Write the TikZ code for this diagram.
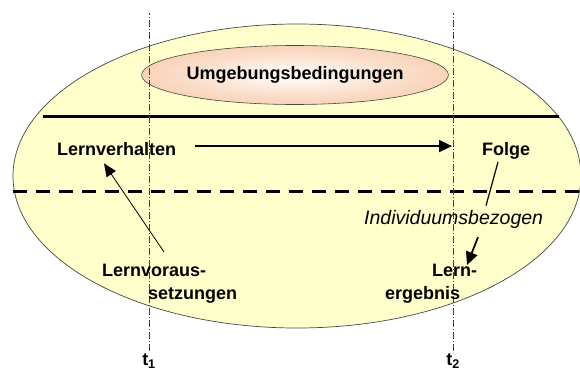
\documentclass[tikz,border=0pt]{standalone}
\usepackage{fontspec}
\setmainfont{Liberation Sans}
\usetikzlibrary{shapes.geometric, arrows.meta, positioning, calc}

\definecolor{paleyellow}{RGB}{255,255,204}
\definecolor{peach}{RGB}{244,180,134}
\definecolor{rimgray}{RGB}{70,70,70}
\pgfdeclareradialshading{peachglow}{\pgfpoint{0bp}{0bp}}{%
  color(0bp)=(white); color(18bp)=(peach!45); color(46bp)=(peach); color(50bp)=(peach)}

\begin{document}
\begin{tikzpicture}[
      x=1pt, y=-1pt,
      every node/.style={inner sep=0pt, font=\bfseries\fontsize{18}{23}\selectfont},
      arrow/.style={-{Triangle[length=13pt, width=12pt]}, line width=1.4pt},
      timeline/.style={draw=black!75, line width=0.7pt, dash pattern=on 7pt off 2pt on 1pt off 2pt}
    ]
      \useasboundingbox (0,0) rectangle (580,372);

      % Outer region
      \draw[rimgray, line width=0.7pt, fill=paleyellow] (297,176) ellipse [x radius=284pt, y radius=152pt];

      % Node 1: Umgebung
      \node (umgebung) [ellipse, draw=rimgray, line width=0.6pt, shading=peachglow,
        minimum width=259pt, minimum height=59pt]
        at (295,75) {Umgebungsbedingungen};

      % Boundary lines
      \draw[line width=3pt] (43,116) -- (559,116);
      \draw[line width=3pt, dash pattern=on 14pt off 9pt] (13,191) -- (580,191);

      % Time marks
      \node (tone) at (149,361) {t\textsubscript{1}};
      \node (ttwo) at (453,361) {t\textsubscript{2}};
      \draw[timeline] (tone.north) ++(0,-3) -- ++(0,-338);
      \draw[timeline] (ttwo.north) ++(0,-3) -- ++(0,-338);

      % Node 2: Lernverhalten and Folge
      \node (verhalten) [anchor=base west] at (57,155) {Lernverhalten};
      \node (folge) [anchor=base west] at (482,155) {Folge};

      % Node 3: Individuumsbezogen
      \node (individuum) [anchor=base west, font=\itshape\fontsize{19.5}{23}\selectfont]
        at (364,224) {Individuumsbezogen};

      % Node 4: Voraussetzungen and Ergebnis
      \node (voraus) [anchor=north west, align=left] at (102,264)
        {Lernvoraus-\\\hspace*{46pt}setzungen};
      \node (ergebnis) [anchor=north west, align=left] at (385,264)
        {\hspace*{47pt}Lern-\\ergebnis};

      % Connectors
      \draw[arrow] ($(verhalten.east)+(19,-2.5)$) -- ($(verhalten.east -| ttwo)+(-1,-2.5)$);
      \draw[line width=0.8pt, -{Triangle[length=13pt, width=11pt]}]
        ($(voraus.north west)+(62,-12)$) -- ($(verhalten.south west)+(47,8)$);
      \draw[line width=1.2pt] ($(folge.south west)+(16,3)$) -- ($(individuum.north west)+(122,-4)$);
      \draw[arrow, line width=1.8pt] ($(individuum.south west)+(114,9)$) -- ($(ergebnis.north west)+(82,1)$);
    \end{tikzpicture}
\end{document}
